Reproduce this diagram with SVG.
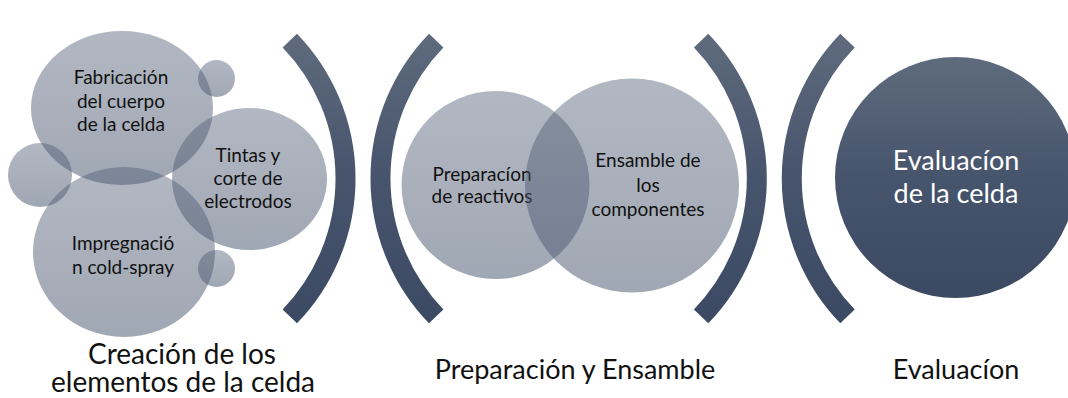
<svg xmlns="http://www.w3.org/2000/svg" width="1068" height="398" viewBox="0 0 1068 398">
  <defs>
    <linearGradient id="lightFill" x1="0" y1="0" x2="0" y2="1">
      <stop offset="0" stop-color="#4c5a72" stop-opacity="0.43"/>
      <stop offset="1" stop-color="#4c5a72" stop-opacity="0.53"/>
    </linearGradient>
    <linearGradient id="darkFill" x1="0" y1="0" x2="0" y2="1">
      <stop offset="0" stop-color="#5f6b7d"/>
      <stop offset="0.5" stop-color="#46546c"/>
      <stop offset="1" stop-color="#3b4963"/>
    </linearGradient>
    <linearGradient id="bracketFill" gradientUnits="userSpaceOnUse" x1="0" y1="33" x2="0" y2="324">
      <stop offset="0" stop-color="#5f6b7d"/>
      <stop offset="0.5" stop-color="#46546c"/>
      <stop offset="1" stop-color="#3b4963"/>
    </linearGradient>
  </defs>
  <style>
    .light { fill: url(#lightFill); }
    .dark { fill: url(#darkFill); }
    .bracket { fill: none; stroke: url(#bracketFill); stroke-width: 20; stroke-linecap: butt; }
    .t { font-family: Lato, "Open Sans", "Liberation Sans", sans-serif; font-size: 19px; fill: #111111; text-anchor: middle; }
    .big { font-family: Lato, "Open Sans", "Liberation Sans", sans-serif; font-size: 27px; text-anchor: middle; }
    .bigger { font-size: 28px; }
    .lbl { fill: #111111; }
    .wt { fill: #ffffff; }
  </style>
  <rect width="1068" height="398" fill="#ffffff"/>

  <g id="creacion">
    <g id="node-fabricacion">
      <ellipse class="light" cx="122" cy="108" rx="91" ry="77"/>
      <text class="t" x="121" y="84">Fabricación</text>
      <text class="t" x="121" y="107.5">del cuerpo</text>
      <text class="t" x="121" y="131">de la celda</text>
    </g>
    <g id="node-dot-top">
      <circle class="light" cx="216.5" cy="78.5" r="18.5"/>
    </g>
    <g id="node-dot-left">
      <circle class="light" cx="40" cy="175" r="32"/>
    </g>
    <g id="node-impregnacion">
      <ellipse class="light" cx="124" cy="252" rx="91" ry="85"/>
      <text class="t" x="123" y="250">Impregnació</text>
      <text class="t" x="123" y="274">n cold-spray</text>
    </g>
    <g id="node-tintas">
      <ellipse class="light" cx="249.5" cy="179" rx="77.5" ry="71"/>
      <text class="t" x="248" y="162">Tintas y</text>
      <text class="t" x="248" y="185">corte de</text>
      <text class="t" x="248" y="208">electrodos</text>
    </g>
    <g id="node-dot-bottom">
      <circle class="light" cx="216.5" cy="268.5" r="18.5"/>
    </g>
    <text class="big bigger lbl" x="182" y="364">Creación de los</text>
    <text class="big bigger lbl" x="183" y="392">elementos de la celda</text>
  </g>

  <g id="preparacion">
    <g id="node-reactivos">
      <circle class="light" cx="495.5" cy="185" r="94"/>
      <text class="t" x="482" y="181">Preparacíon</text>
      <text class="t" x="482" y="203">de reactivos</text>
    </g>
    <g id="node-ensamble">
      <circle class="light" cx="632" cy="185.5" r="107"/>
      <text class="t" x="648" y="167">Ensamble de</text>
      <text class="t" x="648" y="192">los</text>
      <text class="t" x="648" y="216">componentes</text>
    </g>
    <text class="big lbl" x="575" y="379">Preparación y Ensamble</text>
  </g>

  <g id="evaluacion">
    <g id="node-evaluacion-celda">
      <circle class="dark" cx="955.5" cy="177.5" r="120.5"/>
      <text class="big wt" x="956" y="170">Evaluacíon</text>
      <text class="big wt" x="956" y="203">de la celda</text>
    </g>
    <text class="big lbl" x="956" y="379">Evaluacíon</text>
  </g>

  <g id="connectors">
    <path class="bracket" d="M 289.8 40.6 A 198.5 198.5 0 0 1 289.8 316.4"/>
    <path class="bracket" d="M 436.2 40.6 A 198.5 198.5 0 0 0 436.2 316.4"/>
    <path class="bracket" d="M 701.1 40.6 A 198.5 198.5 0 0 1 701.1 316.4"/>
    <path class="bracket" d="M 847.5 40.6 A 198.5 198.5 0 0 0 847.5 316.4"/>
  </g>
</svg>
